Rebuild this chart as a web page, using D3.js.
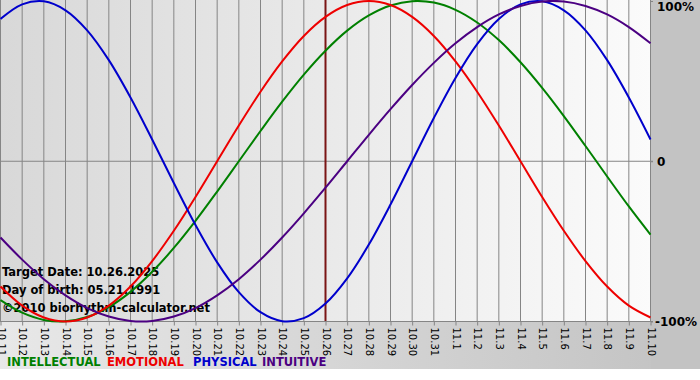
<!DOCTYPE html>
<html>
<head>
<meta charset="utf-8">
<script src="https://cdn.jsdelivr.net/npm/d3@7"></script>
<style>
  html, body { margin: 0; padding: 0; background: #fff; }
  svg { display: block; font-family: Verdana, "DejaVu Sans", sans-serif; }
</style>
</head>
<body>
<svg id="chart" width="700" height="380"></svg>
<script>
// day labels, 10.11 .. 11.10
const days = ["10.11","10.12","10.13","10.14","10.15","10.16","10.17","10.18","10.19","10.20",
  "10.21","10.22","10.23","10.24","10.25","10.26","10.27","10.28","10.29","10.30","10.31",
  "11.1","11.2","11.3","11.4","11.5","11.6","11.7","11.8","11.9","11.10"];

// cycle values (-1 .. 1)
const physical = [0.888,0.979,0.998,0.942,0.817,0.631,0.398,0.136,-0.136,-0.398,-0.631,-0.817,
  -0.942,-0.998,-0.979,-0.888,-0.731,-0.520,-0.270,0,0.270,0.520,0.731,0.888,0.979,0.998,0.942,
  0.817,0.631,0.398,0.136];
const emotional = [-0.782,-0.901,-0.975,-1,-0.975,-0.901,-0.782,-0.623,-0.434,-0.223,0,0.223,
  0.434,0.623,0.782,0.901,0.975,1,0.975,0.901,0.782,0.623,0.434,0.223,0,-0.223,-0.434,-0.623,
  -0.782,-0.901,-0.975];
const intellectual = [-0.866,-0.945,-0.990,-0.999,-0.972,-0.910,-0.815,-0.690,-0.541,-0.372,
  -0.189,0,0.189,0.372,0.541,0.690,0.815,0.910,0.972,0.999,0.990,0.945,0.866,0.756,0.618,0.458,
  0.282,0.095,-0.095,-0.282,-0.458];
const intuitive = [-0.476,-0.614,-0.736,-0.837,-0.916,-0.969,-0.997,-0.997,-0.969,-0.916,-0.837,
  -0.736,-0.614,-0.476,-0.325,-0.165,0,0.165,0.325,0.476,0.614,0.736,0.837,0.916,0.969,0.997,
  0.997,0.969,0.916,0.837,0.736];

const seriesNames = ["INTELLECTUAL", "EMOTIONAL", "PHYSICAL", "INTUITIVE"];
const yTickValues = [1, 0, -1];
const yTickLabels = ["100%", "0", "-100%"];
const targetDay = "10.26";
const infoLines = ["Target Date: 10.26.2025", "Day of birth: 05.21.1991", "\u00a92010 biorhythm-calculator.net"];

const colors = { INTELLECTUAL: "#008000", EMOTIONAL: "#ee0000", PHYSICAL: "#0000cc", INTUITIVE: "#4b0082" };
const values = { INTELLECTUAL: intellectual, EMOTIONAL: emotional, PHYSICAL: physical, INTUITIVE: intuitive };
// draw order (bottom to top) like the original
const drawOrder = ["INTELLECTUAL", "EMOTIONAL", "PHYSICAL", "INTUITIVE"];

const svg = d3.select("#chart");
const plotW = 651, plotH = 321, frameH = 369;

const defs = svg.append("defs");
const frameGrad = defs.append("linearGradient").attr("id", "frameGrad")
  .attr("x1", "0%").attr("y1", "0%").attr("x2", "100%").attr("y2", "0%");
frameGrad.append("stop").attr("offset", "0%").attr("stop-color", "#e8e8e8");
frameGrad.append("stop").attr("offset", "100%").attr("stop-color", "#c2c2c2");
const plotGrad = defs.append("linearGradient").attr("id", "plotGrad")
  .attr("x1", "0%").attr("y1", "0%").attr("x2", "100%").attr("y2", "0%");
plotGrad.append("stop").attr("offset", "0%").attr("stop-color", "#d8d8d8");
plotGrad.append("stop").attr("offset", "100%").attr("stop-color", "#fbfbfb");

svg.append("rect").attr("width", 700).attr("height", frameH).attr("fill", "url(#frameGrad)");
svg.append("rect").attr("x", 651).attr("width", 49).attr("height", frameH).attr("fill", "#c3c3c3");
svg.append("rect").attr("width", plotW).attr("height", plotH).attr("fill", "url(#plotGrad)");

const x = d3.scaleLinear().domain([0, days.length - 1]).range([0.5, plotW - 0.5]);
const y = d3.scaleLinear().domain([-1, 1]).range([plotH + 0.5, 1]);

// vertical grid, one per day
svg.append("g").selectAll("line").data(days).join("line")
  .attr("x1", (d, i) => x(i)).attr("x2", (d, i) => x(i))
  .attr("y1", 0).attr("y2", plotH)
  .attr("stroke", "#858585").attr("stroke-width", 1);

// zero line
svg.append("line").attr("x1", 0).attr("x2", plotW + 2)
  .attr("y1", y(0)).attr("y2", y(0)).attr("stroke", "#858585");

// bottom axis
const xAxis = svg.append("g").attr("transform", `translate(0,${plotH + 0.5})`)
  .call(d3.axisBottom(x).tickValues(d3.range(days.length)).tickFormat(i => days[i]).tickSize(4).tickSizeOuter(0));
xAxis.select(".domain").attr("stroke", "#858585").attr("d", `M0,0H${plotW + 2}`);
xAxis.selectAll(".tick line").attr("stroke", "#858585");
xAxis.selectAll(".tick text")
  .attr("transform", "rotate(90)")
  .attr("x", 6).attr("y", 0).attr("dy", "0.35em")
  .attr("text-anchor", "start")
  .attr("font-family", "Verdana, 'DejaVu Sans', sans-serif")
  .attr("font-size", 10).attr("fill", "#000");

// right axis labels
const yAxis = svg.append("g").attr("transform", `translate(${plotW},0)`)
  .call(d3.axisRight(y).tickValues(yTickValues).tickFormat((d, i) => yTickLabels[i]).tickSize(2).tickSizeOuter(0));
yAxis.select(".domain").remove();
yAxis.selectAll(".tick line").attr("stroke", "#858585");
yAxis.selectAll(".tick text")
  .attr("x", (d) => d === 0 ? 6 : (d > 0 ? 6 : 4))
  .attr("dy", (d) => d > 0 ? "0.75em" : "0.35em")
  .attr("font-family", "Verdana, 'DejaVu Sans', sans-serif")
  .attr("font-size", 12).attr("font-weight", "bold").attr("fill", "#000");

// info text
svg.append("g").selectAll("text").data(infoLines).join("text")
  .attr("x", 2).attr("y", (d, i) => 276 + i * 18)
  .attr("font-size", 11.5).attr("font-weight", "bold").attr("fill", "#000")
  .text(d => d);

// target day marker
const ti = days.indexOf(targetDay);
svg.append("line").attr("x1", x(ti)).attr("x2", x(ti))
  .attr("y1", 0).attr("y2", plotH)
  .attr("stroke", "#7a1515").attr("stroke-width", 2);

// curves
const line = d3.line().x((d, i) => x(i)).y(d => y(d)).curve(d3.curveCatmullRom.alpha(0.5));
svg.append("g").selectAll("path").data(drawOrder).join("path")
  .attr("d", k => line(values[k]))
  .attr("fill", "none").attr("stroke", k => colors[k]).attr("stroke-width", 2);

// legend
const legendX = [7, 107, 193, 262];
svg.append("g").selectAll("text").data(seriesNames).join("text")
  .attr("x", (d, i) => legendX[i]).attr("y", 366)
  .attr("font-size", 11.5).attr("font-weight", "bold")
  .attr("fill", d => colors[d]).text(d => d);
</script>
</body>
</html>
